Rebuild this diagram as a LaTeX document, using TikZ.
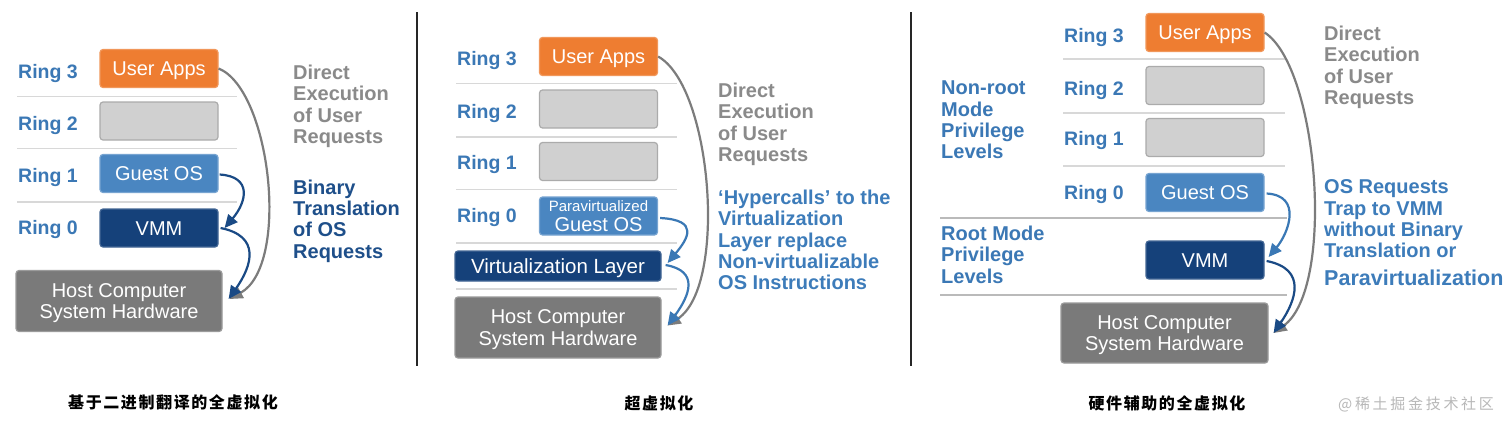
\documentclass[tikz,border=0pt]{standalone}
\usepackage{fontspec}
\setmainfont{Liberation Sans}
\newfontfamily\cjk[LetterSpace=10]{Noto Sans CJK SC}
\newfontfamily\cjkwm[LetterSpace=18]{Noto Sans CJK SC}
\usetikzlibrary{arrows.meta,calc}
\definecolor{ringblue}{HTML}{3B78B5}
\definecolor{txtgray}{HTML}{8A8A8A}
\definecolor{deepblue}{HTML}{1E4F8A}
\definecolor{midblue}{HTML}{3D7CBA}
\definecolor{uaorange}{HTML}{EE7D31}
\definecolor{emptygray}{HTML}{D0D0D0}
\definecolor{guestblue}{HTML}{4A86C1}
\definecolor{vmmnavy}{HTML}{15417A}
\definecolor{hostgray}{HTML}{7A7A7A}
\definecolor{sepgray}{HTML}{D8D8D8}
\definecolor{arrgray}{HTML}{7C7C7C}
\definecolor{arrnavy}{HTML}{1A4A85}
\definecolor{arrblue}{HTML}{3A78B5}
\tikzset{
  ring/.style={anchor=west, inner sep=0pt, text height=14pt, text depth=0pt, text=ringblue,
    font=\fontsize{19.5}{21}\selectfont\bfseries},
  boxbase/.style={rounded corners=3pt, line width=1.2pt, inner sep=0pt, text=white,
    font=\fontsize{20}{21.5}\selectfont},
  onebox/.style={boxbase, text height=14.3pt, text depth=0pt, minimum width=118pt, minimum height=38pt},
  uabox/.style={onebox, fill=uaorange, draw=uaorange!80!white},
  emptybox/.style={onebox, fill=emptygray, draw=black!33},
  guestbox/.style={onebox, fill=guestblue, draw=guestblue!75!white},
  vmmbox/.style={onebox, fill=vmmnavy, draw=vmmnavy!80!white},
  hostbox/.style={boxbase, fill=hostgray, draw=hostgray!75!white, align=center, text depth=0pt,
    minimum width=206pt, minimum height=61pt},
  note/.style={anchor=north west, inner sep=0pt, align=left, font=\fontsize{20}{21.3}\selectfont\bfseries},
  sep/.style={draw=sepgray, line width=1.5pt},
  thicksep/.style={draw=black!27, line width=2.5pt},
  divider/.style={draw=black!85, line width=1.6pt},
  conn/.style={line width=2.2pt, -{Triangle[length=13pt,width=12pt]}},
  garrow/.style={conn, draw=arrgray},
  narrow/.style={conn, draw=arrnavy},
  barrow/.style={conn, draw=arrblue},
  caption/.style={inner sep=0pt, font=\cjk\fontsize{16}{16}\selectfont\bfseries},
}
\begin{document}
\begin{tikzpicture}[x=1pt,y=-1pt]
\fill[white] (0,0) rectangle (1512,432);
\useasboundingbox (0,0) rectangle (1512,432);

% dividers
\draw[divider] (417,12) -- (417,366);
\draw[divider] (911,12) -- (911,366);

% ===== Panel 1 =====
\draw[sep] (17,96.5) -- (237,96.5);
\draw[sep] (17,148.5) -- (237,148.5);
\draw[sep] (17,202) -- (237,202);
\node[ring] (p1r3) at (18,71.7) {Ring 3};
\node[ring] (p1r2) at (18,123) {Ring 2};
\node[ring] (p1r1) at (18,175) {Ring 1};
\node[ring] (p1r0) at (18,227) {Ring 0};
\node[uabox] (p1ua) at (159,68.5) {User Apps};
\node[emptybox] (p1e2) at (159,121) {};
\node[guestbox] (p1gos) at (159,173.5) {Guest OS};
\node[vmmbox] (p1vmm) at (159,228) {VMM};
\node[hostbox] (p1host) at (119,301) {Host Computer\\System Hardware};
\node[note, text=txtgray] (p1de) at (293,64.8) {Direct\\Execution\\of User\\Requests};
\node[note, text=deepblue] (p1bt) at (293,179.5) {Binary\\Translation\\of OS\\Requests};
\draw[garrow] (p1ua.east) .. controls +(52,21) and +(61,-34) .. ($(p1host.east)+(7,-2)$);
\draw[narrow] ($(p1gos.east)+(1,1)$) .. controls +(33,2) and +(22,-26) .. ($(p1vmm.east)+(6,0)$);
\draw[narrow] ($(p1vmm.east)+(2,0)$) .. controls +(40,8) and +(24,-34) .. ($(p1host.east)+(6,-2)$);

% ===== Panel 2 =====
\draw[sep] (456,83.5) -- (677,83.5);
\draw[sep] (456,137) -- (677,137);
\draw[sep] (456,189.5) -- (677,189.5);
\draw[sep] (456,243) -- (677,243);
\draw[sep] (456,289) -- (677,289);
\node[ring] (p2r3) at (457,58) {Ring 3};
\node[ring] (p2r2) at (457,111) {Ring 2};
\node[ring] (p2r1) at (457,162) {Ring 1};
\node[ring] (p2r0) at (457,215) {Ring 0};
\node[uabox] (p2ua) at (598.5,56.5) {User Apps};
\node[emptybox] (p2e2) at (598.5,109) {};
\node[emptybox] (p2e1) at (598.5,161.5) {};
\node[boxbase, fill=guestblue, draw=guestblue!75!white, align=center, text depth=0pt,
  minimum width=118pt, minimum height=38pt, font=\fontsize{20}{19.7}\selectfont]
  (p2pv) at (598.5,216) {{\fontsize{15}{15}\selectfont Paravirtualized}\\Guest OS};
\node[boxbase, fill=vmmnavy, draw=vmmnavy!80!white, text height=14.3pt, text depth=0pt,
  minimum width=206pt, minimum height=30pt, font=\fontsize{20.5}{21.5}\selectfont]
  (p2vl) at (558,266) {Virtualization Layer};
\node[hostbox] (p2host) at (558,327.5) {Host Computer\\System Hardware};
\node[note, text=txtgray] (p2de) at (718,82.8) {Direct\\Execution\\of User\\Requests};
\node[note, text=midblue] (p2hc) at (718,189.8) {‘Hypercalls’ to the\\Virtualization\\Layer replace\\Non-virtualizable\\OS Instructions};
\draw[garrow] (p2ua.east) .. controls +(54,30) and +(60,-40) .. ($(p2host.east)+(6,-2)$);
\draw[barrow] ($(p2pv.east)+(2,2)$) .. controls +(40,2) and +(20,-24) .. ($(p2vl.east)+(6,-3)$);
\draw[barrow] ($(p2vl.east)+(4,-1)$) .. controls +(34,6) and +(22,-30) .. ($(p2host.east)+(6,-2)$);

% ===== Panel 3 =====
\draw[sep] (1063,59) -- (1285,59);
\draw[sep] (1063,113) -- (1285,113);
\draw[sep] (1063,166) -- (1285,166);
\draw[thicksep] (940,218) -- (1287,218);
\draw[thicksep] (940,295) -- (1287,295);
\node[ring] (p3r3) at (1064,35) {Ring 3};
\node[ring] (p3r2) at (1064,88) {Ring 2};
\node[ring] (p3r1) at (1064,138) {Ring 1};
\node[ring] (p3r0) at (1064,192) {Ring 0};
\node[uabox] (p3ua) at (1205,32.5) {User Apps};
\node[emptybox] (p3e2) at (1205,85.5) {};
\node[emptybox] (p3e1) at (1205,137.5) {};
\node[guestbox] (p3gos) at (1205,192.5) {Guest OS};
\node[vmmbox] (p3vmm) at (1205,260) {VMM};
\node[hostbox, minimum width=207pt, minimum height=60pt] (p3host) at (1164.5,333) {Host Computer\\System Hardware};
\node[note, text=ringblue] (p3nr) at (941,80.8) {Non-root\\Mode\\Privilege\\Levels};
\node[note, text=ringblue] (p3rm) at (941,225.8) {Root Mode\\Privilege\\Levels};
\node[note, text=txtgray] (p3de) at (1324,25.8) {Direct\\Execution\\of User\\Requests};
\node[note, text=midblue] (p3os) at (1324,179.8) {OS Requests\\Trap to VMM\\without Binary\\Translation or\\[6.2pt]{\fontsize{21.5}{21.3}\selectfont Paravirtualization}};
\draw[garrow] (p3ua.east) .. controls +(54,35) and +(62,-45) .. ($(p3host.east)+(5,0)$);
\draw[barrow] ($(p3gos.east)+(2,1)$) .. controls +(36,2) and +(20,-24) .. ($(p3vmm.east)+(4,-3)$);
\draw[narrow] ($(p3vmm.east)+(2,1)$) .. controls +(41,8) and +(22,-32) .. ($(p3host.east)+(5,0)$);

% ===== Captions =====
\node[caption] (cap1) at (173,402) {基于二进制翻译的全虚拟化};
\node[caption] (cap2) at (659,403) {超虚拟化};
\node[caption] (cap3) at (1167,403) {硬件辅助的全虚拟化};
\node[inner sep=0pt, text=black!28, font=\cjkwm\fontsize{15}{15}\selectfont] (wm) at (1416,404) {@稀土掘金技术社区};
\end{tikzpicture}
\end{document}
